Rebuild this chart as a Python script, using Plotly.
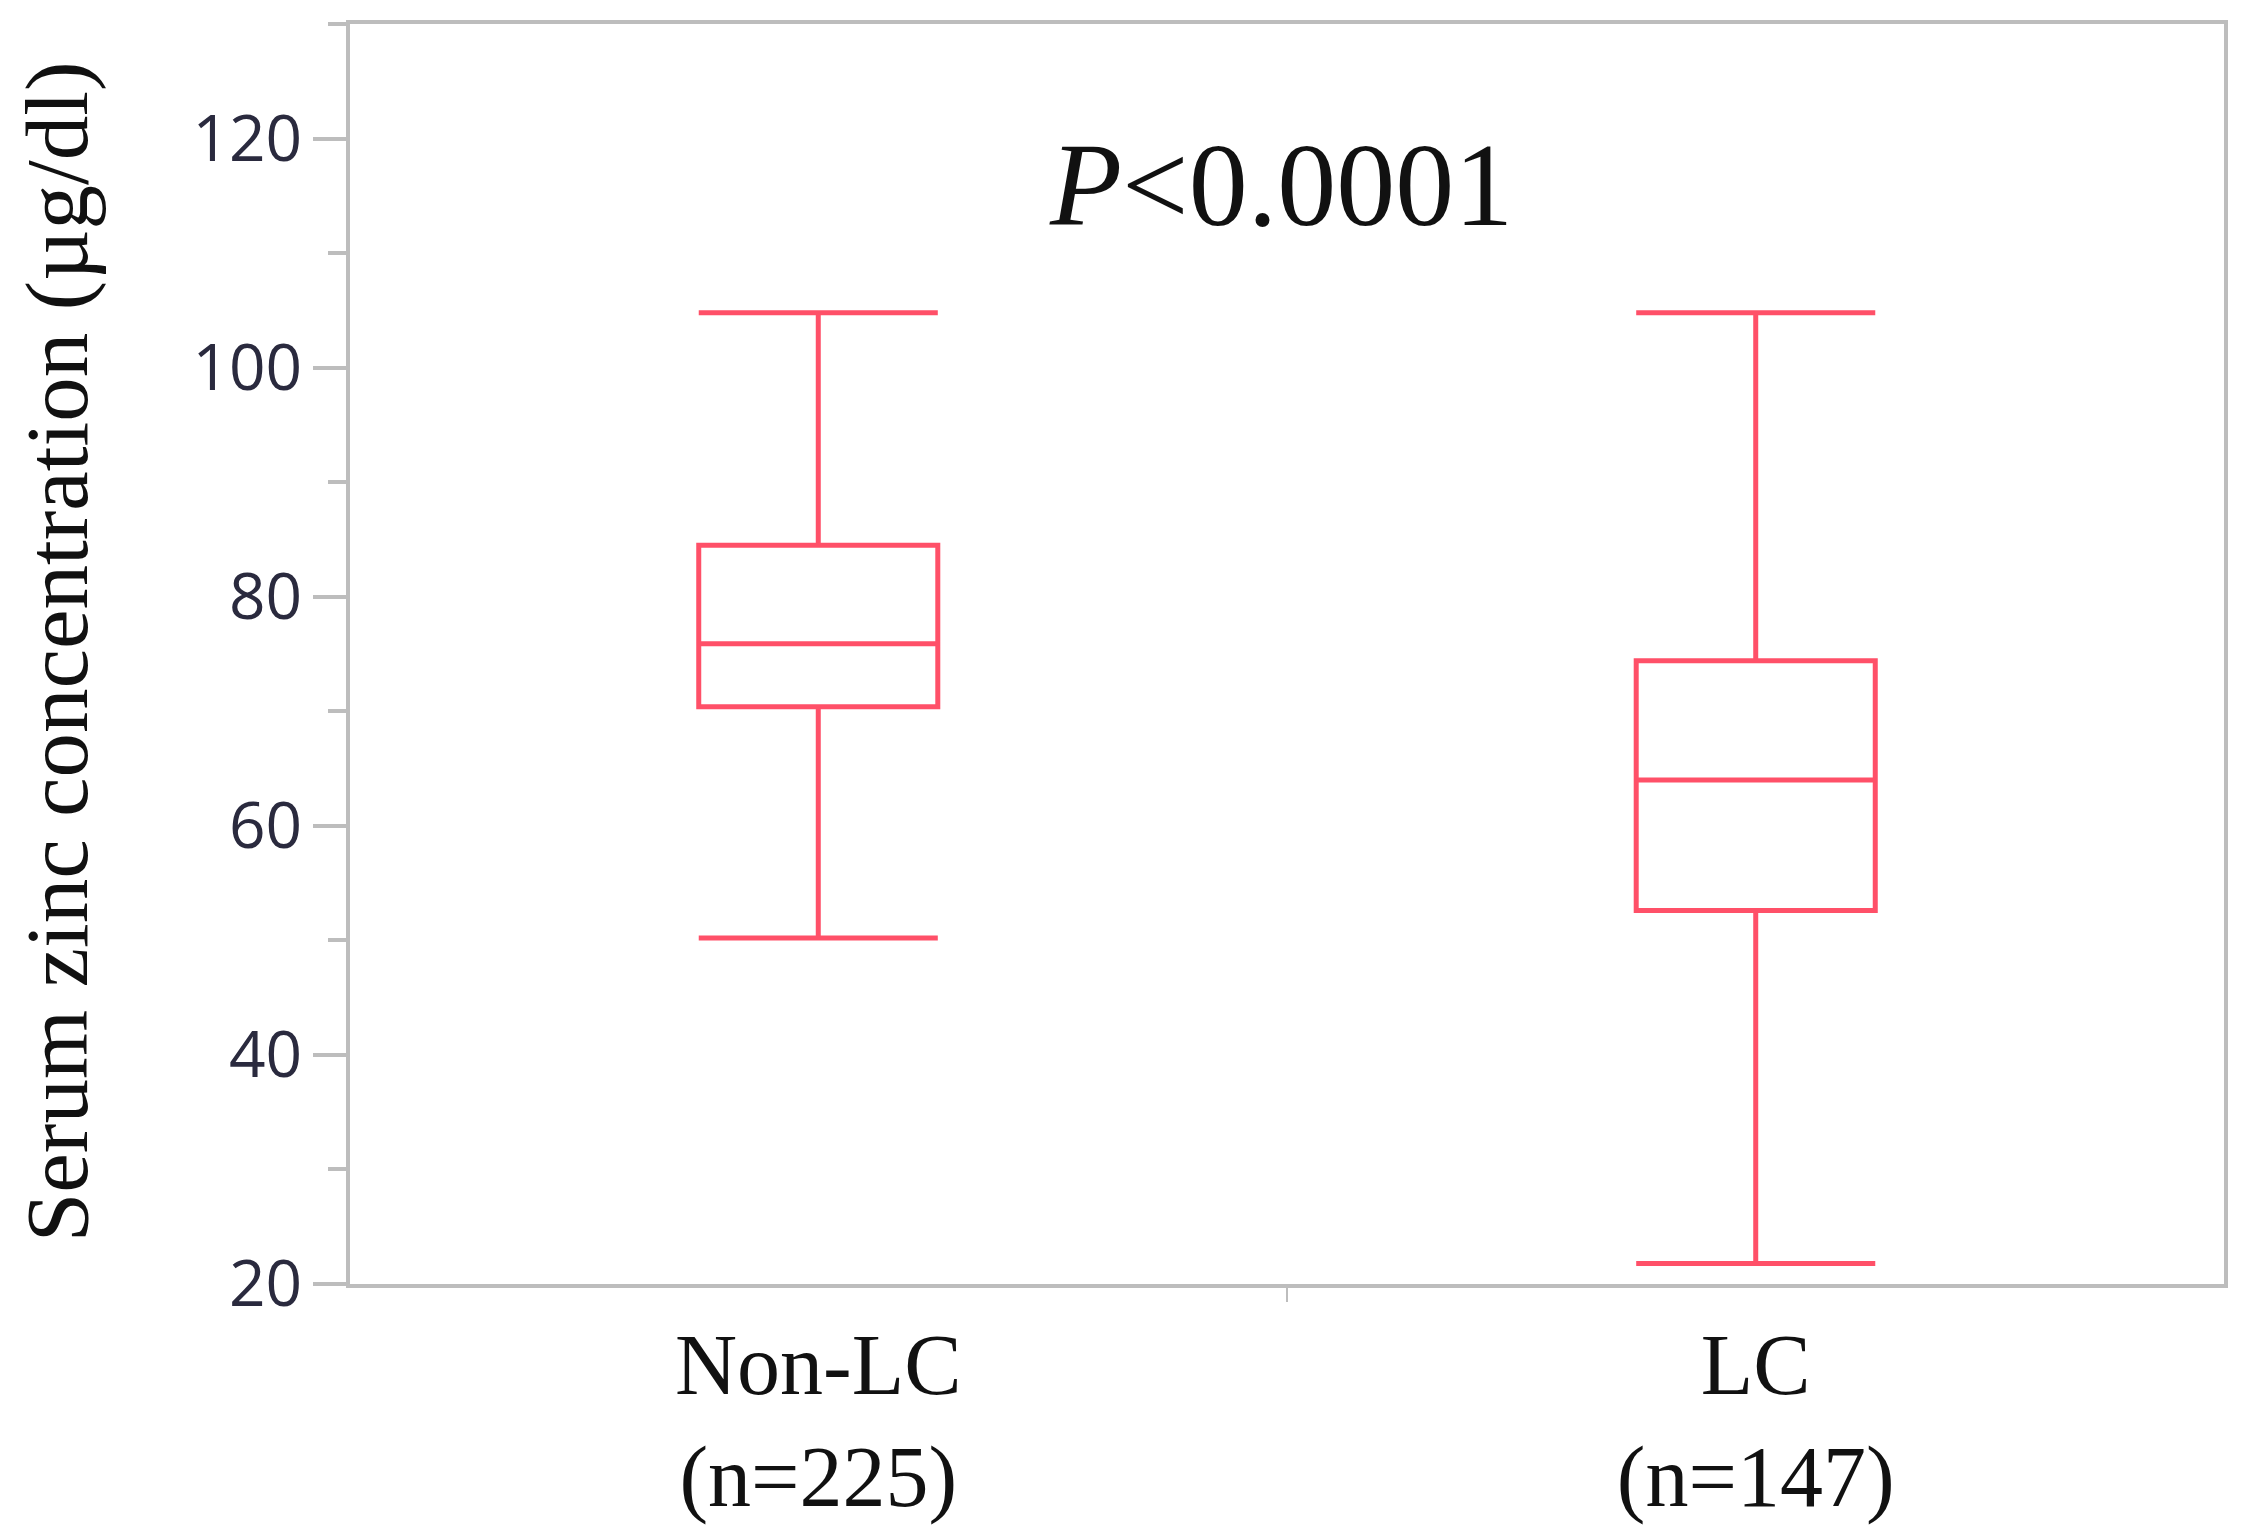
import plotly.graph_objects as go

categories = ["Non-LC", "LC"]
tick_labels = ["Non-LC<br>(n=225)", "LC<br>(n=147)"]
lower_whisker = [50.2, 21.8]
q1_values = [70.4, 52.6]
median_values = [75.9, 64.0]
q3_values = [84.5, 74.4]
upper_whisker = [104.8, 104.8]

BOX_COLOR = "#ff5068"
AXIS_COLOR = "#bdbdbd"

# the page body has a default margin, so the figure is sized to fit inside it
W, H = 2237, 1519
L, R, T, B = 342, 21, 16, 243

fig = go.Figure()
fig.add_trace(go.Box(
    x=categories,
    q1=q1_values,
    median=median_values,
    q3=q3_values,
    lowerfence=lower_whisker,
    upperfence=upper_whisker,
    boxpoints=False,
    width=0.255,
    whiskerwidth=1,
    line=dict(color=BOX_COLOR, width=5),
    fillcolor="rgba(0,0,0,0)",
    showlegend=False,
))

fig.update_layout(
    width=W, height=H,
    margin=dict(l=L, r=R, t=T, b=B),
    paper_bgcolor="white", plot_bgcolor="white",
    xaxis=dict(
        type="category",
        categoryorder="array", categoryarray=categories,
        tickvals=categories, ticktext=tick_labels,
        range=[-0.4995, 1.4995],
        automargin=False,
        showline=True, linecolor=AXIS_COLOR, linewidth=4, mirror=True,
        ticks="outside", tickson="boundaries", ticklen=14, tickwidth=2, tickcolor=AXIS_COLOR,
        tickfont=dict(family="Liberation Serif", size=86, color="#111111"),
        ticklabelstandoff=3,
        showgrid=False, zeroline=False,
    ),
    yaxis=dict(
        range=[20, 130],
        tickmode="array", tickvals=[20, 40, 60, 80, 100, 120],
        automargin=False,
        showline=True, linecolor=AXIS_COLOR, linewidth=4, mirror=True,
        ticks="outside", ticklen=33, tickwidth=4, tickcolor=AXIS_COLOR,
        minor=dict(dtick=10, tick0=0, ticks="outside", ticklen=18, tickwidth=4, tickcolor=AXIS_COLOR),
        tickfont=dict(family="Open Sans", size=64, color="#2a2a3e"),
        ticklabelstandoff=-2,
        showgrid=False, zeroline=False,
    ),
)

fig.add_annotation(
    text="Serum zinc concentration (µg/dl)",
    textangle=-90,
    xref="paper", yref="paper", x=-0.156, y=0.502,
    xanchor="center", yanchor="middle",
    showarrow=False,
    font=dict(family="Liberation Serif", size=89, color="#111111"),
)

fig.add_annotation(
    text="<i>P</i>&lt;0.0001",
    xref="paper", yref="paper", x=0.497, y=0.872,
    xanchor="center", yanchor="middle",
    showarrow=False,
    font=dict(family="Liberation Serif", size=118, color="#111111"),
)

fig.write_html("out.html")
